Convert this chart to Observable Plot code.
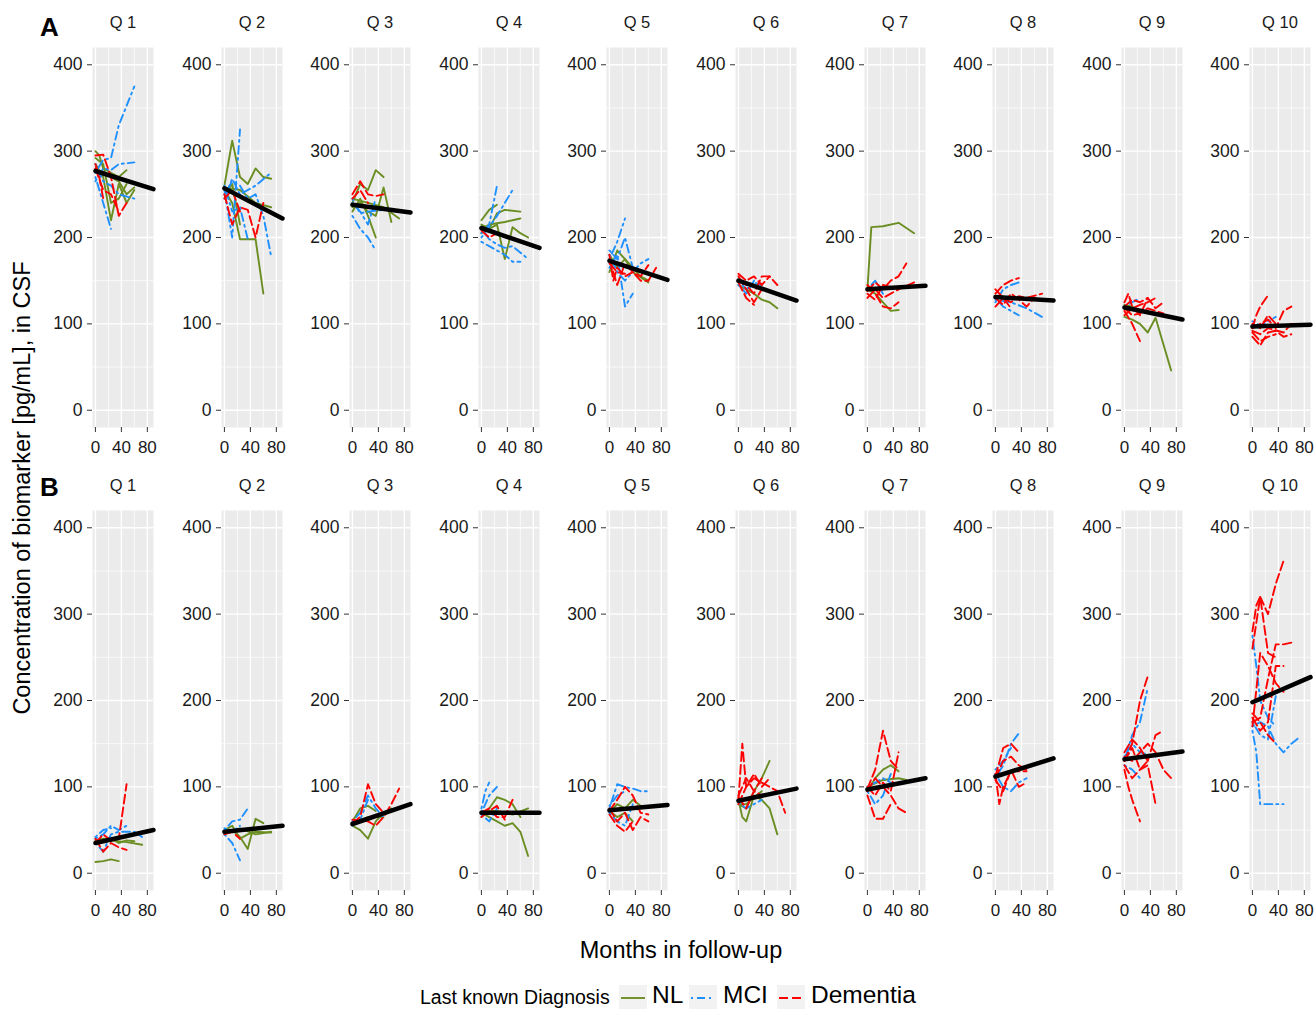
<!DOCTYPE html>
<html><head><meta charset="utf-8">
<script src="https://cdn.jsdelivr.net/npm/d3@7"></script>
<script src="https://cdn.jsdelivr.net/npm/@observablehq/plot@0.6"></script>
<style>
body{margin:0;background:#fff;font-family:"Liberation Sans",Arial,sans-serif;}
#root{position:relative;width:1314px;height:1009px;overflow:hidden;background:#fff;}
.abs{position:absolute;white-space:nowrap;color:#000;}
</style></head><body><div id="root"></div><script>
// ---------------- data ----------------
const quantiles = ["Q 1","Q 2","Q 3","Q 4","Q 5","Q 6","Q 7","Q 8","Q 9","Q 10"];
const diagnoses = ["NL","MCI","Dementia"];
const diagColors = ["#6B8E23","#1E90FF","#FF0000"];
const diagDash = ["none","2,4,8,4","9,4"];
const yTicks = [0,100,200,300,400];
const yMinor = [50,150,250,350];
const xTicks = [0,40,80];
const xMinor = [20,60];
// fitted trend: value at month 0 and at month 89.5 (panel edge)
const trendA0 = [277,257,238,211,173,150,140,131,119,97];
const trendA1 = [256,222,229,188,151,127,144,127,105,99];
const trendB0 = [35,48,57,70,73,84,97,112,132,198];
const trendB1 = [50,55,80,70,79,98,110,133,141,227];
// subjects: [quantile, diagnosis, "month value month value ..."]
const subjectsA = [
 [1,"NL","0 300 6 295 12 280 24 275 36 270 48 278"],
 [1,"NL","0 285 12 270 24 220 36 262 48 240 60 255"],
 [1,"NL","0 292 12 285 24 240 36 245 48 262"],
 [1,"NL","0 280 12 275 24 270 36 265 48 250 60 258"],
 [1,"MCI","0 275 12 290 24 292 36 330 60 375"],
 [1,"MCI","0 270 12 240 24 210"],
 [1,"MCI","0 265 12 280 24 278 36 285 60 287"],
 [1,"MCI","0 285 12 265 24 260 36 250 60 245"],
 [1,"Dementia","0 295 12 296 24 270 36 225 48 240"],
 [1,"Dementia","0 280 12 255 24 250 36 230"],
 [1,"Dementia","0 285 6 270 12 245"],
 [2,"NL","0 260 12 312 24 270 36 262 48 280 60 270 72 268"],
 [2,"NL","0 255 12 240 24 198 36 198 48 198 60 135"],
 [2,"NL","0 250 12 262 24 215"],
 [2,"NL","0 258 24 255 48 240 72 235"],
 [2,"MCI","0 255 12 200 24 325"],
 [2,"MCI","0 250 12 265 24 260 36 245 48 250 60 225 72 178"],
 [2,"MCI","0 260 12 230 24 235 36 198"],
 [2,"MCI","0 245 12 268 24 250 48 260 72 275"],
 [2,"Dementia","0 250 12 215 24 235 36 232 48 200 60 240"],
 [2,"Dementia","0 245 12 255 24 230"],
 [3,"NL","0 240 12 262 24 255 36 278 48 270"],
 [3,"NL","0 230 12 245 24 225 36 200"],
 [3,"NL","0 235 12 240 24 230 36 225 48 258 60 218"],
 [3,"NL","0 245 24 240 48 235 72 222"],
 [3,"MCI","0 225 12 210 24 200 36 185"],
 [3,"MCI","0 240 12 230 24 215 36 245"],
 [3,"MCI","0 245 12 228 24 230 48 232"],
 [3,"Dementia","0 250 12 265 24 250 36 248 48 250"],
 [3,"Dementia","0 245 12 255 24 240"],
 [4,"NL","0 220 12 232 24 238"],
 [4,"NL","0 215 12 210 24 228 36 232 60 230"],
 [4,"NL","0 205 24 215 36 175 48 212 60 205 72 200"],
 [4,"NL","0 210 12 215 36 218 60 222"],
 [4,"MCI","0 205 12 215 24 260"],
 [4,"MCI","0 200 12 212 24 225 36 240 48 255"],
 [4,"MCI","0 195 12 190 24 185 36 180 48 172 60 172"],
 [4,"MCI","0 210 12 198 24 192 36 188 48 190 72 175"],
 [4,"Dementia","0 208 12 200 24 205"],
 [5,"NL","0 160 12 185 24 175 36 165 48 155 60 150"],
 [5,"NL","0 180 12 165 24 175 36 160 60 148"],
 [5,"MCI","0 175 12 195 24 222"],
 [5,"MCI","0 165 12 180 24 120 36 135"],
 [5,"MCI","0 180 12 160 24 150 48 170 60 175"],
 [5,"MCI","0 185 12 175 24 200 36 165"],
 [5,"Dementia","0 180 6 150 12 165 24 155 36 160 48 155 60 168"],
 [5,"Dementia","0 175 12 145 24 170 48 150 60 150 72 165"],
 [5,"Dementia","0 170 12 160 24 158"],
 [6,"NL","0 145 12 140 24 135 36 128 48 125 60 118"],
 [6,"MCI","0 150 12 140 24 148 36 145"],
 [6,"MCI","0 145 12 135 24 150"],
 [6,"Dementia","0 158 12 150 24 155 36 145 48 155"],
 [6,"Dementia","0 155 12 140 24 125 36 140"],
 [6,"Dementia","0 150 12 145 24 135 36 155 48 155 60 145"],
 [6,"Dementia","0 148 12 130 24 122"],
 [7,"NL","0 140 6 212 24 213 48 217 72 205"],
 [7,"NL","0 140 12 135 24 125 36 115 48 116"],
 [7,"MCI","0 140 12 150 24 135"],
 [7,"Dementia","0 145 12 135 24 120 36 118 48 125"],
 [7,"Dementia","0 138 12 148 24 140 36 150 48 155 60 170"],
 [7,"Dementia","0 130 12 140 24 130 36 135 48 140"],
 [7,"Dementia","0 135 12 128 24 145 48 140 72 148"],
 [8,"MCI","0 125 12 140 24 145 36 148"],
 [8,"MCI","0 130 12 120 24 115 36 110"],
 [8,"MCI","0 128 24 125 48 118 72 108"],
 [8,"Dementia","0 135 12 145 24 150 36 153"],
 [8,"Dementia","0 130 12 122 24 135 36 128 48 120 60 130"],
 [8,"Dementia","0 140 12 130 24 125 36 132 48 130 72 135"],
 [8,"Dementia","0 120 12 130 24 118"],
 [9,"NL","0 108 12 105 24 100 36 90 48 107 72 46"],
 [9,"NL","0 122 12 120 24 115"],
 [9,"MCI","0 120 12 125 24 130"],
 [9,"MCI","0 118 24 115 48 112"],
 [9,"Dementia","0 125 6 135 12 120 24 110 36 130"],
 [9,"Dementia","0 115 12 100 24 80"],
 [9,"Dementia","0 120 12 128 24 125 36 130 48 118 60 125"],
 [9,"Dementia","0 110 12 118 24 122 36 125 48 130"],
 [9,"Dementia","0 118 12 110 24 112 36 118 48 115 60 112"],
 [10,"MCI","0 103 12 98 24 103 36 108"],
 [10,"Dementia","0 95 6 110 12 120 24 133"],
 [10,"Dementia","0 90 12 80 24 85 36 88"],
 [10,"Dementia","0 100 12 95 24 110 36 100"],
 [10,"Dementia","0 85 12 75 24 90 36 92 48 85 60 88"],
 [10,"Dementia","0 95 24 105 36 95 48 115 60 120"],
 [10,"Dementia","0 92 12 88 24 95 48 90 60 100"]
];
const subjectsB = [
 [1,"NL","0 13 12 14 24 16 36 14"],
 [1,"NL","0 35 24 38 48 36 72 33"],
 [1,"NL","0 38 12 40 24 40 36 35 48 38 60 37"],
 [1,"MCI","0 40 12 45 24 55 36 50 48 55"],
 [1,"MCI","0 35 12 25 24 45 36 48 60 48 72 42"],
 [1,"MCI","0 42 12 50 24 52"],
 [1,"Dementia","0 40 12 25 24 35 36 30 48 27"],
 [1,"Dementia","0 35 12 45 24 38 36 40 48 103"],
 [2,"NL","0 45 12 50 24 42 36 28 48 63 60 58"],
 [2,"NL","0 50 12 55 24 40 36 45 48 48 72 47"],
 [2,"NL","0 48 24 52 48 45 72 48"],
 [2,"MCI","0 50 12 60 24 62 36 75"],
 [2,"MCI","0 45 12 35 24 15"],
 [2,"MCI","0 52 12 48 24 55"],
 [2,"Dementia","0 45 12 48 24 40"],
 [3,"NL","0 55 12 50 24 40 36 60 48 70 60 75"],
 [3,"NL","0 60 12 75 24 78 36 72"],
 [3,"NL","0 58 24 65 48 65"],
 [3,"MCI","0 60 12 70 24 90 36 75 48 65"],
 [3,"MCI","0 55 12 62 24 85"],
 [3,"Dementia","0 58 12 65 24 103 36 80 48 70"],
 [3,"Dementia","0 62 24 60 36 55 48 65 60 80 72 98"],
 [4,"NL","0 65 12 75 24 88 36 85 48 80 60 65"],
 [4,"NL","0 70 12 65 24 60 36 55 48 58 60 48 72 20"],
 [4,"NL","0 72 24 72 48 68 72 75"],
 [4,"MCI","0 70 12 90 24 100"],
 [4,"MCI","0 75 6 95 12 105"],
 [4,"MCI","0 68 12 60 24 75"],
 [4,"Dementia","0 70 12 75 24 65 36 65 48 85"],
 [4,"Dementia","0 65 12 72 24 78 36 62"],
 [5,"NL","0 70 12 80 24 75 36 85 48 78"],
 [5,"NL","0 72 12 65 24 70 36 60"],
 [5,"MCI","0 75 12 103 24 100 36 98 48 95 60 95"],
 [5,"MCI","0 70 12 60 24 55 36 80"],
 [5,"MCI","0 78 12 90 24 95"],
 [5,"Dementia","0 75 12 60 24 70 36 50 48 65 60 60"],
 [5,"Dementia","0 72 12 85 24 100 36 90 48 70 60 68"],
 [5,"Dementia","0 68 12 55 24 48 36 60"],
 [6,"NL","0 80 12 75 24 95 36 110 48 130"],
 [6,"NL","0 85 6 65 12 60 24 90 36 85 48 75 60 45"],
 [6,"NL","0 80 12 80 24 88 36 95"],
 [6,"MCI","0 82 12 75 24 80 36 85"],
 [6,"Dementia","0 85 6 150 12 100 24 115 36 100 48 110"],
 [6,"Dementia","0 90 12 110 24 95 36 90 60 95 72 70"],
 [6,"Dementia","0 80 12 100 24 110 36 105 48 100 60 95"],
 [6,"Dementia","0 88 12 75 24 95 36 110"],
 [7,"NL","0 95 12 110 24 120 36 125 48 118"],
 [7,"NL","0 100 24 108 48 110 60 108"],
 [7,"MCI","0 95 12 80 24 90 36 115"],
 [7,"MCI","0 100 12 105 24 110 48 100"],
 [7,"Dementia","0 98 12 120 24 165 36 130 48 120"],
 [7,"Dementia","0 90 12 63 24 63 36 80"],
 [7,"Dementia","0 100 12 90 24 105 36 95 48 140"],
 [7,"Dementia","0 95 12 110 24 100 36 90 48 75 60 70"],
 [8,"MCI","0 110 12 125 24 150 36 162"],
 [8,"MCI","0 115 12 100 24 95 36 105 48 110"],
 [8,"MCI","0 120 12 130 24 145"],
 [8,"Dementia","0 112 12 145 24 150 36 140"],
 [8,"Dementia","0 108 12 95 24 120 36 100 48 105"],
 [8,"Dementia","0 115 6 80 12 100 24 118 48 118"],
 [8,"Dementia","0 110 12 130 24 135 36 125 48 120"],
 [9,"MCI","0 130 12 160 24 175 36 215"],
 [9,"MCI","0 125 12 120 24 110"],
 [9,"MCI","0 135 12 150 24 140 48 135"],
 [9,"Dementia","0 130 12 150 24 200 36 228"],
 [9,"Dementia","0 120 6 100 12 85 24 60"],
 [9,"Dementia","0 140 12 155 24 145 36 130 48 160 60 165"],
 [9,"Dementia","0 125 12 110 24 120 36 125 48 80"],
 [9,"Dementia","0 135 12 130 24 140 36 150 48 140 60 120 72 110"],
 [9,"Dementia","0 130 12 145 24 120 36 130"],
 [10,"MCI","0 275 6 240 12 200 24 180 36 170"],
 [10,"MCI","0 165 6 140 12 80 24 80 36 80 48 80"],
 [10,"MCI","0 170 12 175 24 170 36 150 48 140 60 150 72 157"],
 [10,"MCI","0 175 12 160 24 155 36 205"],
 [10,"Dementia","0 260 6 290 12 320 24 300 36 335 48 362"],
 [10,"Dementia","0 280 6 310 12 320 24 255 36 250"],
 [10,"Dementia","0 175 12 180 24 225 36 265 48 265 60 267"],
 [10,"Dementia","0 180 12 165 24 175 36 240 48 240"],
 [10,"Dementia","0 170 12 255 24 240 36 220 48 210"],
 [10,"Dementia","0 185 12 175 24 160 36 150"]
];

// ---------------- build ----------------
function parse(subjects){
  const out = [];
  subjects.forEach(([q, dx, s], id) => {
    const nums = s.trim().split(/\s+/).map(Number);
    for (let k = 0; k < nums.length; k += 2) out.push({id, q, dx, month: nums[k], value: nums[k+1]});
  });
  return out;
}
const rowsData = [parse(subjectsA), parse(subjectsB)];
const trends = [[trendA0, trendA1], [trendB0, trendB1]];

const root = document.getElementById("root");
const ML = 50, MR = 6, PW = 61, MT = 47, MB = 38, PH = 380;
const rowTop = [0, 463];
const FONT = '"Liberation Sans", Arial, sans-serif';

for (let r = 0; r < 2; r++) {
  for (let i = 0; i < 10; i++) {
    const d = rowsData[r].filter(p => p.q === i + 1);
    const tr = [{month: 0, value: trends[r][0][i]}, {month: 89.5, value: trends[r][1][i]}];
    const marks = [
      Plot.frame({fill: "#EBEBEB", stroke: null}),
      Plot.ruleY(yMinor, {stroke: "#fff", strokeWidth: 0.7}),
      Plot.ruleX(xMinor, {stroke: "#fff", strokeWidth: 0.7}),
      Plot.ruleY(yTicks, {stroke: "#fff", strokeWidth: 1.4}),
      Plot.ruleX(xTicks, {stroke: "#fff", strokeWidth: 1.4})
    ];
    diagnoses.forEach((dx, k) => {
      marks.push(Plot.line(d.filter(p => p.dx === dx), {
        x: "month", y: "value", z: "id",
        stroke: diagColors[k], strokeWidth: 1.9,
        strokeDasharray: diagDash[k] === "none" ? undefined : diagDash[k],
        strokeLinejoin: "round", curve: "linear"
      }));
    });
    marks.push(Plot.line(tr, {x: "month", y: "value", stroke: "#000", strokeWidth: 4.5}));
    marks.push(Plot.axisY({ticks: yTicks, tickSize: 5, tickPadding: 5, tickFormat: v => String(v), label: null, fontSize: 17.5, stroke: "#333", fill: "#1a1a1a"}));
    marks.push(Plot.axisX({ticks: xTicks, tickSize: 5, tickPadding: 8, tickFormat: v => String(v), label: null, fontSize: 17, stroke: "#333", fill: "#1a1a1a"}));
    marks.push(Plot.text([quantiles[i]], {text: d => d, frameAnchor: "top", lineAnchor: "middle", dy: -25, fontSize: 16.5, fill: "#1a1a1a"}));

    const svg = Plot.plot({
      width: ML + PW + MR, height: MT + PH + MB,
      marginLeft: ML, marginRight: MR, marginTop: MT, marginBottom: MB,
      x: {domain: [-4.5, 89.5]},
      y: {domain: [-20, 420]},
      style: {fontFamily: FONT, background: "transparent", overflow: "visible", color: "#1a1a1a"},
      marks
    });
    svg.style.position = "absolute";
    svg.style.left = (92 + i * 128.6 - ML) + "px";
    svg.style.top = rowTop[r] + "px";
    root.appendChild(svg);
  }
}

// panel tags
function addText(txt, css){
  const el = document.createElement("div");
  el.className = "abs";
  el.textContent = txt;
  Object.assign(el.style, css);
  root.appendChild(el);
  return el;
}
addText("A", {left: "40px", top: "12px", fontSize: "26px", fontWeight: "bold", lineHeight: "30px"});
addText("B", {left: "40px", top: "472px", fontSize: "26px", fontWeight: "bold", lineHeight: "30px"});
// axis titles
addText("Months in follow-up", {left: "681px", top: "936px", fontSize: "23.5px", lineHeight: "28px", transform: "translateX(-50%)"});
addText("Concentration of biomarker [pg/mL], in CSF", {left: "22px", top: "488px", fontSize: "23.5px", lineHeight: "28px", transform: "translate(-50%,-50%) rotate(-90deg)"});
// legend
addText("Last known Diagnosis", {left: "420px", top: "986px", fontSize: "19.5px", lineHeight: "22px"});
const keyX = [619, 689, 777];
const labX = [652, 723, 811];
diagnoses.forEach((dx, k) => {
  const ns = "http://www.w3.org/2000/svg";
  const s = document.createElementNS(ns, "svg");
  s.setAttribute("width", 28); s.setAttribute("height", 24);
  s.style.position = "absolute"; s.style.left = keyX[k] + "px"; s.style.top = "985px";
  const rect = document.createElementNS(ns, "rect");
  rect.setAttribute("width", 28); rect.setAttribute("height", 24); rect.setAttribute("fill", "#F2F2F2");
  s.appendChild(rect);
  const ln = document.createElementNS(ns, "line");
  ln.setAttribute("x1", 2); ln.setAttribute("x2", 26); ln.setAttribute("y1", 13); ln.setAttribute("y2", 13);
  ln.setAttribute("stroke", diagColors[k]); ln.setAttribute("stroke-width", 1.9);
  if (diagDash[k] !== "none") ln.setAttribute("stroke-dasharray", diagDash[k]);
  s.appendChild(ln);
  root.appendChild(s);
  addText(dx, {left: labX[k] + "px", top: "982px", fontSize: "24.5px", lineHeight: "25px"});
});
</script></body></html>
